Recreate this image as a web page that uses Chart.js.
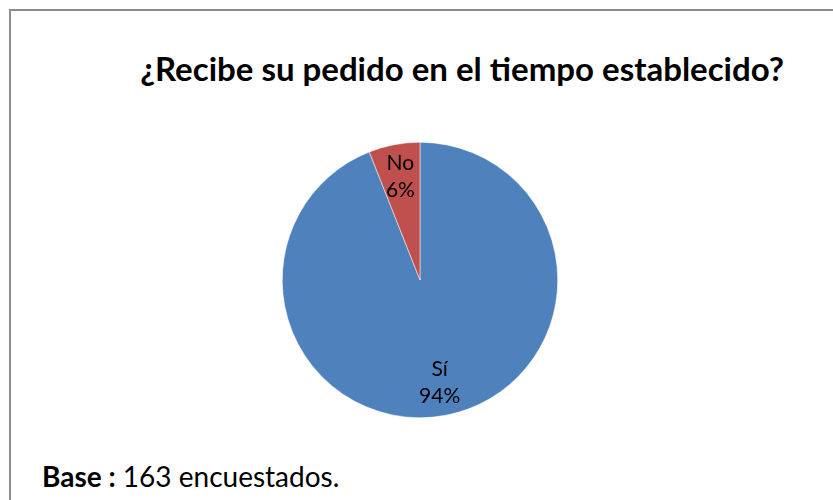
<!DOCTYPE html>
<html>
<head>
<meta charset="utf-8">
<script src="https://cdn.jsdelivr.net/npm/chart.js@4"></script>
<style>
  body { margin: 0; width: 833px; height: 500px; overflow: hidden; background: #fff; font-family: Lato, "Open Sans", sans-serif; }
  .frame { position: absolute; left: 9px; top: 9px; width: 900px; height: 600px; border: 2px solid #8c8c8c; }
  .title { position: absolute; left: 0; width: 924px; top: 48px; text-align: center; font-weight: bold; font-size: 33px; color: #000; white-space: nowrap; }
  .base { position: absolute; left: 42px; top: 459px; font-size: 28px; color: #000; white-space: nowrap; }
  #chart { position: absolute; left: 0; top: 0; }
</style>
</head>
<body>
<div class="frame"></div>
<div class="title">¿Recibe su pedido en el tiempo establecido?</div>
<div class="base"><b>Base :</b> 163 encuestados.</div>
<canvas id="chart" width="833" height="500"></canvas>
<script>
// data
const categories = ['Sí', 'No'];
const percentages = [94, 6];
const sliceColors = ['#4F81BD', '#C0504D'];

// draw "label \n value%" inside each slice
const sliceLabels = {
  id: 'sliceLabels',
  afterDatasetsDraw(chart) {
    const ctx = chart.ctx;
    const meta = chart.getDatasetMeta(0);
    ctx.save();
    ctx.fillStyle = '#000';
    ctx.font = '21px Lato, "Open Sans", sans-serif';
    ctx.textAlign = 'center';
    ctx.textBaseline = 'middle';
    meta.data.forEach((arc, i) => {
      const p = arc.getProps(['x', 'y', 'startAngle', 'endAngle', 'outerRadius'], true);
      const mid = (p.startAngle + p.endAngle) / 2;
      const r = p.outerRadius * 0.76;
      const x = p.x + Math.cos(mid) * r;
      const y = p.y + Math.sin(mid) * r;
      ctx.fillText(categories[i], x, y - 14);
      ctx.fillText(percentages[i] + '%', x, y + 13);
    });
    ctx.restore();
  }
};

new Chart(document.getElementById('chart'), {
  type: 'pie',
  data: {
    labels: categories,
    datasets: [{
      data: percentages,
      backgroundColor: sliceColors,
      borderColor: '#ffffff',
      borderWidth: 0.5
    }]
  },
  options: {
    responsive: false,
    animation: false,
    layout: { padding: { left: 282, right: 275, top: 142, bottom: 82 } },
    plugins: {
      legend: { display: false },
      tooltip: { enabled: false }
    }
  },
  plugins: [sliceLabels]
});
</script>
</body>
</html>
